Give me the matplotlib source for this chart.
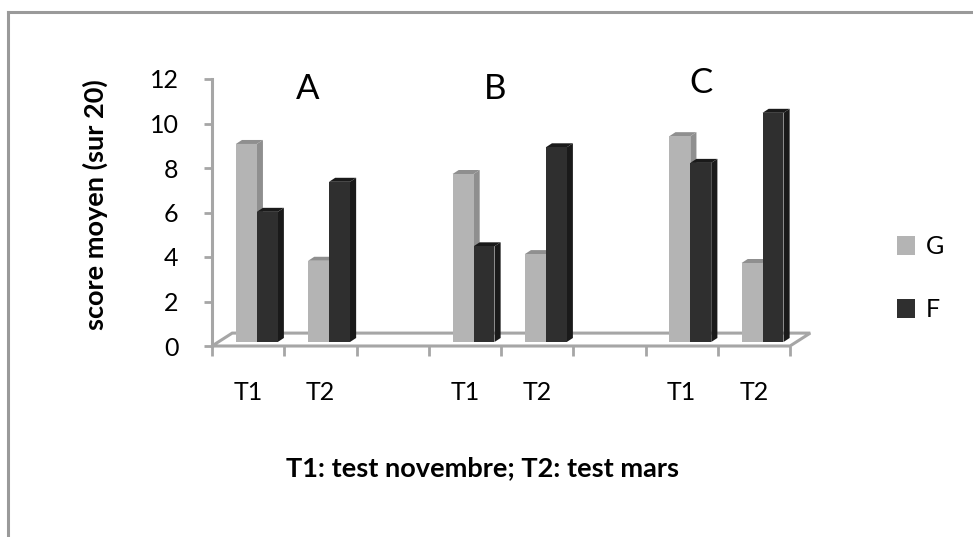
import numpy as np
import matplotlib
matplotlib.use('Agg')
import matplotlib.pyplot as plt
from matplotlib.patches import Polygon, Rectangle

# categories along the x axis (blank slots separate the groups)
categories = ['T1', 'T2', '', 'T1', 'T2', '', 'T1', 'T2']
groups = ['A', 'B', 'C']
bar_slots = [0, 1, 3, 4, 6, 7]
G = [8.9, 3.65, 7.55, 3.95, 9.25, 3.55]
F = [5.85, 7.2, 4.3, 8.75, 8.05, 10.3]

# where the group letters sit (data coords)
group_xy = [(1.33, 11.55), (3.92, 11.55), (6.77, 11.8)]

col_g = '#b4b4b4'
col_f = '#2f2f2f'
grey = '#a6a6a6'

plt.rcParams['font.family'] = ['Lato', 'DejaVu Sans']

fig = plt.figure(figsize=(9.73, 5.37), dpi=100)
ax = fig.add_axes([212 / 973, 1 - 346 / 537, (790 - 212) / 973, (346 - 79) / 537])

ax.set_xlim(0, len(categories))
ax.set_ylim(0, 12)

# pseudo-3D depth, in data units
ddx, ddy = 0.085, 0.18       # bar side/top depth
shift_x, lift = 0.12, 0.18   # bars sit in the middle of the floor depth
floor_dx, floor_dy = 0.28, 0.58
w = 0.29


def bar3d(x0, h, c, side):
    x0 = x0 + shift_x
    y0 = lift
    ax.add_patch(Polygon([(x0 + w, y0), (x0 + w + ddx, y0 + ddy), (x0 + w + ddx, y0 + h + ddy), (x0 + w, y0 + h)],
                         closed=True, fc=side, ec='none', zorder=3))
    ax.add_patch(Polygon([(x0, y0 + h), (x0 + ddx, y0 + h + ddy), (x0 + w + ddx, y0 + h + ddy), (x0 + w, y0 + h)],
                         closed=True, fc=side, ec='none', zorder=3))
    ax.add_patch(Rectangle((x0, y0), w, h, fc=c, ec='none', zorder=4))


# floor
n = len(categories)
ax.add_patch(Polygon([(0, 0), (floor_dx, floor_dy), (n + floor_dx, floor_dy), (n, 0)],
                     closed=True, fc='white', ec=grey, lw=2.2, zorder=1, clip_on=False))

for i, s in enumerate(bar_slots):
    c = s + 0.5
    bar3d(c - w, G[i], col_g, '#8f8f8f')
    bar3d(c, F[i], col_f, '#1a1a1a')

# legend proxies
ax.bar([0], [0], color=col_g, label='G')
ax.bar([0], [0], color=col_f, label='F')

for g, (px, py) in zip(groups, group_xy):
    ax.text(px, py, g, ha='center', va='center', fontsize=25, color='black')

for sp in ['top', 'right', 'bottom']:
    ax.spines[sp].set_visible(False)
ax.spines['left'].set_color(grey)
ax.spines['left'].set_linewidth(2.2)

ax.set_yticks(np.arange(0, 13, 2))
ax.tick_params(axis='y', length=6, width=2, color=grey, pad=18, labelsize=18)
ax.set_xticks(np.arange(n) + 0.5)
ax.set_xticklabels(categories)
ax.set_xticks(np.arange(n + 1), minor=True)
ax.tick_params(axis='x', which='major', length=0, pad=25, labelsize=18)
ax.tick_params(axis='x', which='minor', length=7, width=2, color=grey)

fig.text(95 / 973, 1 - 205 / 537, 'score moyen (sur 20)', rotation=90, ha='center', va='center',
         fontsize=19.5, fontweight='bold')
fig.text(482 / 973, 1 - 468 / 537, 'T1: test novembre; T2: test mars', ha='center', va='center',
         fontsize=19.5, fontweight='bold')

leg = fig.legend(loc='center left', bbox_to_anchor=(897 / 973, 1 - 278 / 537), frameon=False,
                 fontsize=18, handlelength=0.7, handleheight=0.8, labelspacing=1.6, handletextpad=0.45,
                 borderpad=0, borderaxespad=0)

# outer chart border (left and top edges visible)
fig.add_artist(plt.Line2D([8 / 973, 8 / 973], [0, 1 - 12 / 537], transform=fig.transFigure, color='#9a9a9a', lw=2.2))
fig.add_artist(plt.Line2D([8 / 973, 1], [1 - 12 / 537, 1 - 12 / 537], transform=fig.transFigure, color='#9a9a9a', lw=2.2))

fig.savefig('out.png', dpi=100)
